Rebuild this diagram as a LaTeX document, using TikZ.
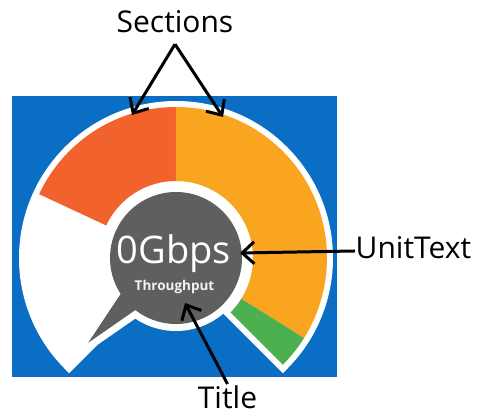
\documentclass[tikz,border=0pt]{standalone}
\usepackage{fontspec}
\setmainfont{Open Sans}
\usepackage{tikz}
\usetikzlibrary{positioning, arrows.meta}

\definecolor{bgblue}{HTML}{0B6EC5}
\definecolor{secred}{HTML}{F2622C}
\definecolor{secorange}{HTML}{F9A51F}
\definecolor{secgreen}{HTML}{4CAF50}
\definecolor{dialgray}{HTML}{5E605F}

\tikzset{
    callout/.style={font=\fontsize{30}{36}\selectfont, inner sep=2pt},
    pointer/.style={line width=3pt, -{Straight Barb[length=12pt, width=22pt]}},
}

\begin{document}
\begin{tikzpicture}[x=1pt, y=1pt]

    % Page
    \fill[white] (-176,-159) rectangle (307,258);

    % Blue backdrop
    \fill[bgblue] (-164,-119) rectangle (161,162);

    % White rim of the dial
    \draw[white, fill=white, line width=12pt, line join=miter]
        (225:151) arc[start angle=225, end angle=-45, radius=151]
        -- (-45:77) arc[start angle=-45, end angle=225, radius=77] -- cycle;

    % Coloured sections
    \foreach \a/\b/\c in {155/90/secred, 90/-32/secorange, -32/-45/secgreen}{
        \fill[\c] (\a:151) arc[start angle=\a, end angle=\b, radius=151]
            -- (\b:77) arc[start angle=\b, end angle=\a, radius=77] -- cycle;
    }

    % Speech bubble in the middle
    \draw[white, fill=white, line width=14pt, line join=round]
        (232:66) arc[start angle=232, end angle=573, radius=66]
        -- (224:122) -- cycle;
    \fill[dialgray]
        (232:66) arc[start angle=232, end angle=573, radius=66]
        -- (224:122) -- cycle;

    % Readout
    \node[font=\fontsize{38}{45}\selectfont, text=white, anchor=base] (readout) at (-2,-6) {0Gbps};
    \node[font=\bfseries\fontsize{13.5}{16}\selectfont, text=white!90!gray, anchor=base] (heading) at (-1.5,-33) {Throughput};

    % Sections label
    \node[callout, text depth=9pt, anchor=base] (sections) at (-1,225) {Sections};
    \coordinate (redTip) at (-44,143);
    \coordinate (orangeTip) at (47,141);
    \draw[pointer] (sections.south) -- (redTip);
    \draw[pointer] (sections.south) -- (orangeTip);

    % Unit label
    \node[callout, inner sep=0.5pt, text depth=6pt, anchor=base west] (unit) at (179,-1) {UnitText};
    \coordinate (unitTip) at (64,5);
    \draw[pointer] (unit.west) -- (unitTip);

    % Title label
    \node[callout, anchor=base] (titleLbl) at (51.5,-151) {Title};
    \coordinate (titleTip) at (9,-45);
    \draw[pointer] (titleLbl.north) -- (titleTip);

\end{tikzpicture}
\end{document}
